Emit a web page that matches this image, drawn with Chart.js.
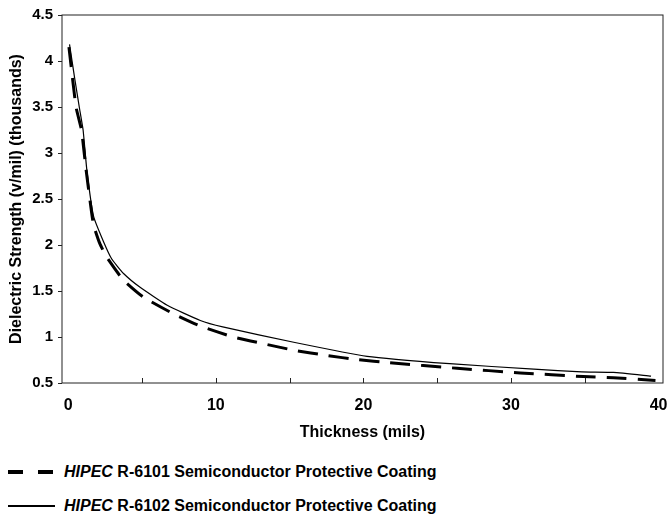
<!DOCTYPE html>
<html>
<head>
<meta charset="utf-8">
<script src="https://cdn.jsdelivr.net/npm/chart.js@4"></script>
<style>
  body { margin: 0; background: #fff; font-family: Arial, "Liberation Sans", sans-serif; }
  #wrap { position: relative; width: 668px; height: 521px; }
  #box { position: absolute; left: 0; top: 0; width: 668px; height: 455px; }
  .leg { position: absolute; left: 8px; font-weight: bold; font-size: 16px; line-height: 18px; color: #000; white-space: nowrap; }
  .leg svg { position: absolute; left: 0; }
  .leg span.t { position: absolute; left: 56px; top: -9px; }
</style>
</head>
<body>
<div id="wrap">
  <div id="box"><canvas id="chart"></canvas></div>
  <div class="leg" style="top:472px">
    <svg width="50" height="6" style="top:-3px"><line x1="0" y1="3" x2="45" y2="3" stroke="#000" stroke-width="4" stroke-dasharray="15,15"/></svg>
    <span class="t"><i>HIPEC</i> R-6101 Semiconductor Protective Coating</span>
  </div>
  <div class="leg" style="top:506px">
    <svg width="50" height="4" style="top:-2px"><line x1="0" y1="2" x2="47" y2="2" stroke="#000" stroke-width="2"/></svg>
    <span class="t"><i>HIPEC</i> R-6102 Semiconductor Protective Coating</span>
  </div>
</div>
<script>
// thickness in mils, strength in thousands of v/mil
const thickness6101 = [0.05, 0.53, 0.9, 1.21, 1.7, 2.13, 2.6, 3.73, 5.08, 7.11, 8.93, 11.19, 13.22, 15.36, 17.5, 19.63, 21.77, 26.35, 30.63, 34.9, 36.94, 39.79];
const strength6101  = [4.15, 3.5, 3.25, 2.82, 2.23, 2.02, 1.87, 1.62, 1.435, 1.254, 1.12, 1.0, 0.927, 0.854, 0.80, 0.753, 0.72, 0.66, 0.61, 0.57, 0.557, 0.527];

const thickness6102 = [0.09, 0.45, 0.75, 1.01, 1.26, 1.72, 2.38, 2.94, 3.75, 4.87, 6.71, 8.95, 10.47, 15.36, 20.25, 25.84, 31.55, 34.8, 36.94, 39.49];
const strength6102  = [4.18, 3.8, 3.5, 3.25, 2.82, 2.31, 2.04, 1.85, 1.69, 1.54, 1.345, 1.18, 1.11, 0.94, 0.79, 0.71, 0.65, 0.62, 0.615, 0.575];

const xTicks = [0, 5, 10, 15, 20, 25, 30, 35, 40];
const yTicks = [0.5, 1, 1.5, 2, 2.5, 3, 3.5, 4, 4.5];

function toPoints(xs, ys) {
    return xs.map((x, i) => ({ x: x, y: ys[i] }));
}

// frame round the plot and small ticks pointing into it on the x axis
const framePlugin = {
    id: 'frame',
    afterDraw(chart) {
        const { ctx, chartArea, scales } = chart;
        ctx.save();
        ctx.strokeStyle = '#222';
        ctx.lineWidth = 1;
        ctx.strokeRect(chartArea.left, chartArea.top, chartArea.right - chartArea.left, chartArea.bottom - chartArea.top);
        xTicks.slice(1, -1).forEach(v => {
            const px = Math.round(scales.x.getPixelForValue(v)) + 0.5;
            ctx.beginPath();
            ctx.moveTo(px, chartArea.bottom);
            ctx.lineTo(px, chartArea.bottom - 5);
            ctx.stroke();
        });
        ctx.restore();
    }
};

document.addEventListener("DOMContentLoaded", () => {
    Chart.defaults.font.family = 'Arial, "Liberation Sans", sans-serif';
    Chart.defaults.font.weight = 'bold';
    Chart.defaults.font.size = 15;
    Chart.defaults.color = '#000';

    const ctx = document.getElementById('chart').getContext('2d');
    new Chart(ctx, {
        type: 'scatter',
        data: {
            datasets: [{
                label: 'HIPEC R-6101 Semiconductor Protective Coating',
                data: toPoints(thickness6101, strength6101),
                showLine: true,
                borderColor: '#000',
                borderWidth: 3,
                borderDash: [20, 11],
                pointRadius: 0,
                tension: 0.15
            }, {
                label: 'HIPEC R-6102 Semiconductor Protective Coating',
                data: toPoints(thickness6102, strength6102),
                showLine: true,
                borderColor: '#000',
                borderWidth: 1.2,
                pointRadius: 0,
                tension: 0.15
            }]
        },
        options: {
            responsive: true,
            maintainAspectRatio: false,
            animation: false,
            layout: { padding: { top: 15, right: 5, left: 0, bottom: 0 } },
            plugins: {
                legend: { display: false },
                tooltip: { enabled: false }
            },
            scales: {
                x: {
                    type: 'linear',
                    min: -0.42,
                    max: 40.3,
                    afterBuildTicks: scale => { scale.ticks = xTicks.map(v => ({ value: v })); },
                    afterFit: scale => {
                        scale.height = 72;
                        scale.paddingLeft = 0;
                        scale.paddingRight = 0;
                    },
                    ticks: {
                        autoSkip: false,
                        padding: 13,
                        maxRotation: 0,
                        font: { size: 16 },
                        callback: v => (v % 10 === 0 ? String(v) : '')
                    },
                    grid: { display: false, drawTicks: false },
                    border: { display: false },
                    title: {
                        display: true,
                        text: 'Thickness (mils)',
                        padding: { top: 0, bottom: 13 },
                        font: { size: 16, weight: 'bold' }
                    }
                },
                y: {
                    min: 0.5,
                    max: 4.5,
                    afterBuildTicks: scale => { scale.ticks = yTicks.map(v => ({ value: v })); },
                    afterFit: scale => {
                        scale.width = 62;
                        scale.paddingTop = 0;
                        scale.paddingBottom = 0;
                    },
                    ticks: {
                        padding: 5,
                        font: { size: 15 },
                        callback: v => String(v)
                    },
                    grid: { drawOnChartArea: false, drawTicks: true, tickLength: 4, color: '#222' },
                    border: { display: false },
                    title: {
                        display: true,
                        text: 'Dielectric Strength (v/mil) (thousands)',
                        padding: { top: 7, bottom: 0 },
                        font: { size: 16, weight: 'bold' }
                    }
                }
            }
        },
        plugins: [framePlugin]
    });
});
</script>
</body>
</html>
